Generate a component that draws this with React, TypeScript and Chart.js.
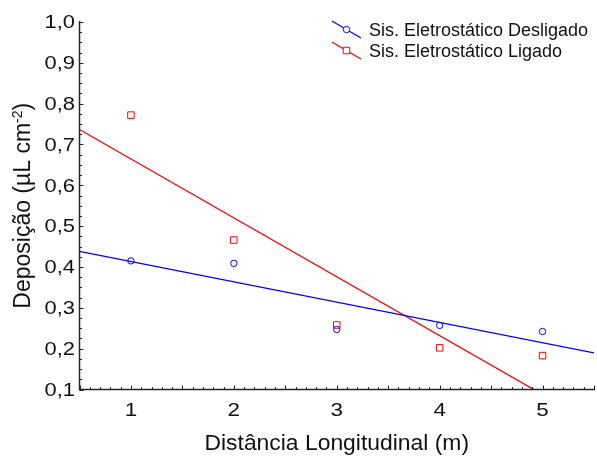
import React, { useEffect, useRef } from "react";
import { Chart, registerables } from "chart.js";

Chart.register(...registerables);

// ---- data ----
const DISTANCES = [1, 2, 3, 4, 5];
const DESLIGADO = [0.415, 0.409, 0.247, 0.257, 0.242];
const LIGADO = [0.772, 0.466, 0.258, 0.202, 0.183];
const SERIES_LABELS = ["Sis. Eletrostático Desligado", "Sis. Eletrostático Ligado"];
const X_TICKS = [1, 2, 3, 4, 5];
const Y_TICKS = [0.1, 0.2, 0.3, 0.4, 0.5, 0.6, 0.7, 0.8, 0.9, 1.0];
const X_TITLE = "Distância Longitudinal (m)";
const Y_TITLE_MAIN = "Deposição (µL cm";
const Y_TITLE_SUP = "-2";
const Y_TITLE_END = ")";

const X_MIN = 0.5;
const X_MAX = 5.5;
const Y_MIN = 0.1;
const Y_MAX = 1.0;

const BLUE = "#0000ff";
const RED = "#ff0000";
const FONT = "'Liberation Sans', Arial, Helvetica, sans-serif";
const TEXT = "#111111";

function fitLine(xs: number[], ys: number[]) {
  const n = xs.length;
  const mx = xs.reduce((a, b) => a + b, 0) / n;
  const my = ys.reduce((a, b) => a + b, 0) / n;
  let sxy = 0;
  let sxx = 0;
  for (let i = 0; i < n; i++) {
    sxy += (xs[i] - mx) * (ys[i] - my);
    sxx += (xs[i] - mx) * (xs[i] - mx);
  }
  const b = sxy / sxx;
  const a = my - b * mx;
  return [
    { x: X_MIN, y: a + b * X_MIN },
    { x: X_MAX, y: a + b * X_MAX },
  ];
}

const toPoints = (ys: number[]) => DISTANCES.map((x, i) => ({ x, y: ys[i] }));
const fmtY = (v: number) => v.toFixed(1).replace(".", ",");

function stretchedText(ctx: any, text: string, x: number, y: number, sx: number, align: string) {
  ctx.save();
  ctx.translate(x, y);
  ctx.scale(sx, 1);
  ctx.textAlign = align;
  ctx.fillText(text, 0, 0);
  ctx.restore();
}

const axesPlugin = {
  id: "customAxes",
  afterDraw(chart: any) {
    const { ctx, chartArea: a, scales } = chart;
    const xs = scales.x;
    const ys = scales.y;
    ctx.save();
    ctx.strokeStyle = "#262626";
    ctx.lineWidth = 1.5;
    ctx.beginPath();
    ctx.moveTo(a.left, a.top - 1);
    ctx.lineTo(a.left, a.bottom);
    ctx.lineTo(a.right + 1, a.bottom);
    ctx.stroke();

    ctx.lineWidth = 1;
    // x ticks (inside, upward)
    for (let i = 0; ; i++) {
      const v = X_MIN + i * 0.1;
      if (v > X_MAX + 1e-9) break;
      const px = Math.round(xs.getPixelForValue(v)) + 0.5;
      const major = Math.abs(v * 2 - Math.round(v * 2)) < 1e-6;
      const len = major ? 4 : 2.5;
      ctx.beginPath();
      ctx.moveTo(px, a.bottom);
      ctx.lineTo(px, a.bottom - len);
      ctx.stroke();
    }
    // y ticks (inside, rightward)
    for (let i = 0; ; i++) {
      const v = Y_MIN + i * 0.025;
      if (v > Y_MAX + 1e-9) break;
      const py = Math.round(ys.getPixelForValue(v)) + 0.5;
      const major = Math.abs(v * 10 - Math.round(v * 10)) < 1e-6;
      const len = major ? 4 : 2.5;
      ctx.beginPath();
      ctx.moveTo(a.left, py);
      ctx.lineTo(a.left + len, py);
      ctx.stroke();
    }

    // tick labels
    ctx.fillStyle = TEXT;
    ctx.font = `17.5px ${FONT}`;
    ctx.textBaseline = "alphabetic";
    X_TICKS.forEach((v) => {
      stretchedText(ctx, String(v), xs.getPixelForValue(v), 416, 1.28, "center");
    });
    Y_TICKS.forEach((v) => {
      stretchedText(ctx, fmtY(v), 75, ys.getPixelForValue(v) + 6.3, 1.25, "right");
    });

    // x title
    ctx.font = `22px ${FONT}`;
    stretchedText(ctx, X_TITLE, (a.left + a.right) / 2, 450, 1.04, "center");

    // y title (rotated, with superscript)
    ctx.save();
    const cy = (a.top + a.bottom) / 2;
    ctx.translate(30, cy);
    ctx.rotate(-Math.PI / 2);
    ctx.textAlign = "left";
    ctx.font = `23px ${FONT}`;
    const w1 = ctx.measureText(Y_TITLE_MAIN).width;
    const w3 = ctx.measureText(Y_TITLE_END).width;
    ctx.font = `14px ${FONT}`;
    const w2 = ctx.measureText(Y_TITLE_SUP).width;
    const total = w1 + w2 + w3;
    let x0 = -total / 2;
    ctx.font = `23px ${FONT}`;
    ctx.fillText(Y_TITLE_MAIN, x0, 0);
    x0 += w1;
    ctx.font = `14px ${FONT}`;
    ctx.fillText(Y_TITLE_SUP, x0, -8);
    x0 += w2;
    ctx.font = `23px ${FONT}`;
    ctx.fillText(Y_TITLE_END, x0, 0);
    ctx.restore();

    // legend
    [0, 1].forEach((di) => {
      const ds = chart.data.datasets[di];
      const cyRow = 29.5 + di * 21;
      const cx = 346.5;
      ctx.strokeStyle = ds.borderColor;
      ctx.lineWidth = 1.3;
      ctx.beginPath();
      ctx.moveTo(cx - 14.5, cyRow - 8.5);
      ctx.lineTo(cx + 14.5, cyRow + 8.5);
      ctx.stroke();
      ctx.fillStyle = "#ffffff";
      ctx.lineWidth = 1;
      ctx.beginPath();
      if (ds.pointStyle === "rect") {
        ctx.rect(cx - 3.25, cyRow - 3.25, 6.5, 6.5);
      } else {
        ctx.arc(cx, cyRow, 3.2, 0, Math.PI * 2);
      }
      ctx.fill();
      ctx.stroke();
      ctx.fillStyle = TEXT;
      ctx.font = `18px ${FONT}`;
      ctx.textAlign = "left";
      ctx.textBaseline = "alphabetic";
      ctx.fillText(ds.label, 369, cyRow + 0.5 + 6.4);
    });
    ctx.restore();
  },
};

export default function App() {
  const canvasRef = useRef<HTMLCanvasElement | null>(null);

  useEffect(() => {
    if (!canvasRef.current) return;
    const chart = new Chart(canvasRef.current, {
      type: "scatter",
      data: {
        datasets: [
          {
            label: SERIES_LABELS[0],
            data: toPoints(DESLIGADO),
            borderColor: BLUE,
            backgroundColor: "rgba(0,0,0,0)",
            pointStyle: "circle",
            pointRadius: 3.2,
            pointBorderWidth: 1,
            showLine: false,
          } as any,
          {
            label: SERIES_LABELS[1],
            data: toPoints(LIGADO),
            borderColor: RED,
            backgroundColor: "rgba(0,0,0,0)",
            pointStyle: "rect",
            pointRadius: 4.6,
            pointBorderWidth: 1,
            showLine: false,
          } as any,
          {
            label: "fit1",
            data: fitLine(DISTANCES, DESLIGADO),
            borderColor: BLUE,
            borderWidth: 1.3,
            pointRadius: 0,
            showLine: true,
          } as any,
          {
            label: "fit2",
            data: fitLine(DISTANCES, LIGADO),
            borderColor: RED,
            borderWidth: 1.3,
            pointRadius: 0,
            showLine: true,
          } as any,
        ],
      },
      options: {
        animation: false,
        responsive: false,
        maintainAspectRatio: false,
        devicePixelRatio: 1,
        layout: { autoPadding: false, padding: { top: 22, right: 3, left: 0, bottom: 0 } },
        plugins: {
          legend: { display: false },
          tooltip: { enabled: false },
        },
        scales: {
          x: {
            type: "linear",
            min: X_MIN,
            max: X_MAX,
            grid: { display: false, drawTicks: false },
            border: { display: false },
            afterBuildTicks: (s: any) => {
              s.ticks = X_TICKS.map((v) => ({ value: v }));
            },
            afterFit: (s: any) => {
              s.height = 67.5;
            },
            ticks: { display: false },
          },
          y: {
            type: "linear",
            min: Y_MIN,
            max: Y_MAX,
            grid: { display: false, drawTicks: false },
            border: { display: false },
            afterBuildTicks: (s: any) => {
              s.ticks = Y_TICKS.map((v) => ({ value: v }));
            },
            afterFit: (s: any) => {
              s.width = 79.5;
            },
            ticks: { display: false },
          },
        },
      },
      plugins: [axesPlugin],
    });
    return () => chart.destroy();
  }, []);

  return (
    <div style={{ position: "fixed", left: 0, top: 0, width: 597, height: 457, background: "#fff" }}>
      <canvas ref={canvasRef} width={597} height={457} style={{ display: "block" }} />
    </div>
  );
}
